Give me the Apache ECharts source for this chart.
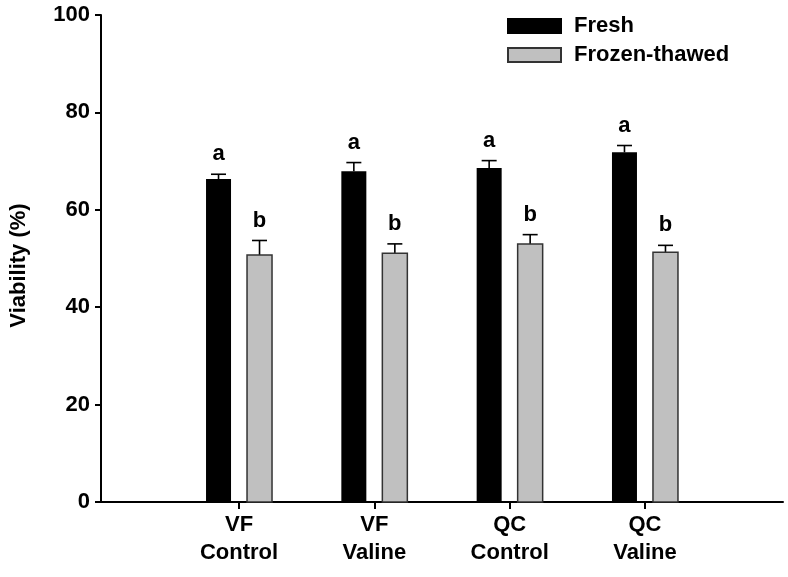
<!DOCTYPE html>
<html>
<head>
<meta charset="utf-8">
<script src="https://cdn.jsdelivr.net/npm/echarts@6/dist/echarts.min.js"></script>
<style>html,body{margin:0;padding:0;background:#fff}#c{width:788px;height:577px}</style>
</head>
<body>
<div id="c"></div>
<script>
const categories = ['VF\nControl', 'VF\nValine', 'QC\nControl', 'QC\nValine'];
const freshValues = [66.3, 67.9, 68.6, 71.8];
const freshErrors = [1.0, 1.8, 1.5, 1.4];
const frozenValues = [50.7, 51.1, 53.0, 51.3];
const frozenErrors = [3.0, 1.9, 1.9, 1.4];
const freshLetters = ['a', 'a', 'a', 'a'];
const frozenLetters = ['b', 'b', 'b', 'b'];
const yTicks = [0, 20, 40, 60, 80, 100];

const FONT = '"Liberation Sans", Arial, sans-serif';
const FS = 22;
const chart = echarts.init(document.getElementById('c'), null, {renderer: 'canvas'});

function makeData(values, errors, letters) {
  return values.map((v, i) => [i + 1, v, errors[i], letters[i]]);
}

function makeRender(offset, fill, stroke) {
  return function (params, api) {
    const x = api.value(0), v = api.value(1), e = api.value(2), letter = api.value(3);
    const base = api.coord([x, 0]);
    const top = api.coord([x, v]);
    const capPt = api.coord([x, v + e]);
    const cx = base[0] + offset;
    const w = 25;
    const children = [
      {type: 'line', shape: {x1: cx, y1: top[1], x2: cx, y2: capPt[1]}, style: {stroke: '#000', lineWidth: 1.6}},
      {type: 'line', shape: {x1: cx - 7.5, y1: capPt[1], x2: cx + 7.5, y2: capPt[1]}, style: {stroke: '#000', lineWidth: 1.6}},
      {type: 'rect', shape: {x: cx - w / 2, y: top[1], width: w, height: base[1] - top[1]},
        style: {fill: fill, stroke: stroke, lineWidth: stroke ? 1.5 : 0}},
      {type: 'text', x: cx, y: capPt[1] - 9,
        style: {text: letter, fill: '#000', font: 'bold ' + FS + 'px ' + FONT, align: 'center', verticalAlign: 'bottom'}}
    ];
    return {type: 'group', children: children};
  };
}

const option = {
  animation: false,
  backgroundColor: '#fff',
  grid: {left: 101, right: 5, top: 15, bottom: 75},
  legend: {
    orient: 'vertical',
    left: 507,
    top: 15,
    padding: 0,
    itemWidth: 53,
    itemHeight: 14,
    itemGap: 7,
    textStyle: {fontFamily: FONT, fontWeight: 'bold', fontSize: FS, color: '#000', lineHeight: 20, padding: [0, 0, 0, 8]},
    data: [
      {name: 'Fresh', icon: 'rect'},
      {name: 'Frozen-thawed', icon: 'rect'}
    ]
  },
  xAxis: {
    type: 'value',
    min: -0.02,
    max: 5.02,
    splitLine: {show: false},
    axisLine: {show: true, onZero: false, lineStyle: {color: '#000', width: 2}},
    axisTick: {show: true, customValues: [1, 2, 3, 4], length: 7, lineStyle: {color: '#000', width: 2}},
    axisLabel: {
      show: true,
      customValues: [1, 2, 3, 4],
      formatter: v => categories[Math.round(v) - 1] || '',
      fontFamily: FONT, fontWeight: 'bold', fontSize: FS, color: '#000', lineHeight: 28, margin: 9
    }
  },
  yAxis: {
    type: 'value',
    min: 0,
    max: 100,
    interval: 20,
    name: 'Viability (%)',
    nameLocation: 'middle',
    nameRotate: 90,
    nameGap: 71,
    nameTextStyle: {fontFamily: FONT, fontWeight: 'bold', fontSize: FS, color: '#000', padding: [0, 14, 0, 0]},
    splitLine: {show: false},
    axisLine: {show: true, onZero: false, lineStyle: {color: '#000', width: 2}},
    axisTick: {show: true, length: 6, lineStyle: {color: '#000', width: 2}},
    axisLabel: {
      fontFamily: FONT, fontWeight: 'bold', fontSize: FS, color: '#000', margin: 11,
      formatter: v => yTicks.indexOf(v) >= 0 ? String(v) : ''
    }
  },
  series: [
    {
      name: 'Fresh',
      type: 'custom',
      itemStyle: {color: '#000', borderColor: '#000', borderWidth: 1},
      renderItem: makeRender(-20.5, '#000', null),
      encode: {x: 0, y: [1, 2]},
      data: makeData(freshValues, freshErrors, freshLetters),
      z: 3
    },
    {
      name: 'Frozen-thawed',
      type: 'custom',
      itemStyle: {color: '#c0c0c0', borderColor: '#333', borderWidth: 1.5},
      renderItem: makeRender(20.5, '#c0c0c0', '#333'),
      encode: {x: 0, y: [1, 2]},
      data: makeData(frozenValues, frozenErrors, frozenLetters),
      z: 3
    }
  ]
};
chart.setOption(option);
</script>
</body>
</html>
